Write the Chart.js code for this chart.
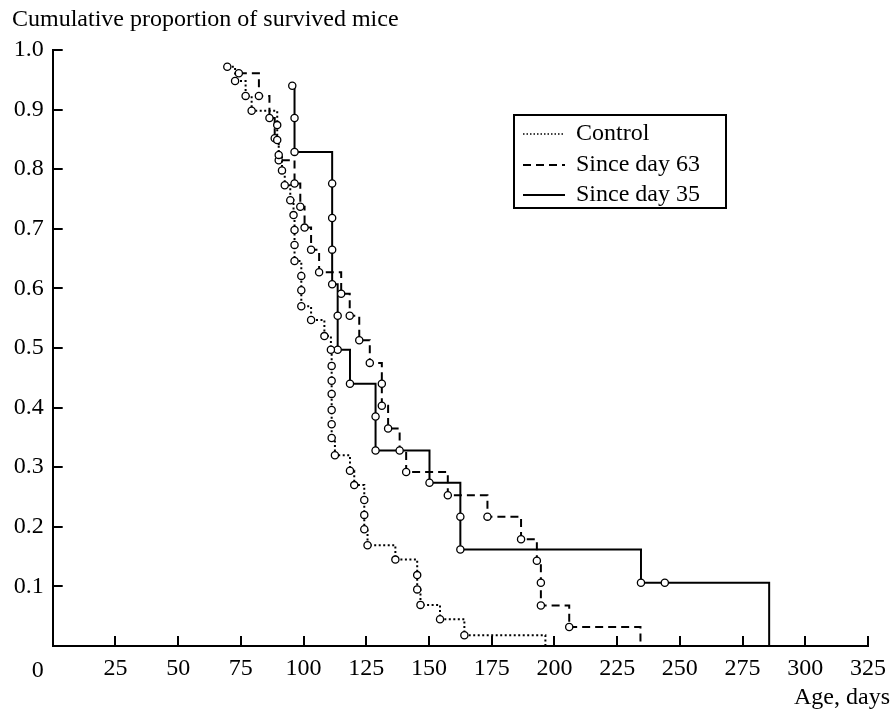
<!DOCTYPE html>
<html>
<head>
<meta charset="utf-8">
<script src="https://cdn.jsdelivr.net/npm/chart.js@4/dist/chart.umd.min.js"></script>
<style>
html,body{margin:0;padding:0;background:#fff;}
#wrap{width:894px;height:712px;position:relative;}
</style>
</head>
<body>
<div id="wrap"><canvas id="c" width="894" height="712"></canvas></div>
<script>
// ---- data ----
const seriesNames = ['Control', 'Since day 63', 'Since day 35'];

const controlDays = [69.6, 72.7, 76.9, 79.3, 89.5, 89.5, 90.1, 91.4, 92.5, 94.7, 96.0, 96.4, 96.4, 96.4, 99.1, 99.1, 99.1, 103.0, 108.3, 110.9, 111.2, 111.2, 111.2, 111.2, 111.2, 111.2, 112.5, 118.5, 120.2, 124.2, 124.2, 124.2, 125.5, 136.6, 145.3, 145.3, 146.6, 154.4, 164.1, 196.4];
const controlSurv = [0.972, 0.948, 0.923, 0.898, 0.874, 0.849, 0.824, 0.798, 0.773, 0.748, 0.723, 0.698, 0.673, 0.646, 0.621, 0.597, 0.570, 0.547, 0.520, 0.497, 0.470, 0.445, 0.423, 0.396, 0.372, 0.349, 0.320, 0.294, 0.270, 0.245, 0.220, 0.196, 0.169, 0.145, 0.119, 0.095, 0.069, 0.045, 0.018, 0];

const day63Days = [74.2, 82.2, 86.4, 88.5, 90.1, 96.4, 98.7, 100.4, 103.0, 106.2, 115.0, 118.4, 122.2, 126.4, 131.2, 131.2, 133.7, 138.3, 140.9, 157.5, 173.3, 186.7, 193.0, 194.6, 194.6, 205.9, 234.3];
const day63Surv = [0.961, 0.923, 0.886, 0.852, 0.815, 0.776, 0.737, 0.702, 0.665, 0.627, 0.591, 0.554, 0.513, 0.475, 0.440, 0.403, 0.365, 0.328, 0.292, 0.253, 0.217, 0.179, 0.143, 0.106, 0.068, 0.032, 0];

const day35Days = [95.5, 96.4, 96.4, 111.4, 111.4, 111.4, 111.4, 113.6, 113.6, 118.5, 128.7, 128.7, 150.2, 162.5, 162.5, 234.5, 244.0, 285.6];
const day35Surv = [0.940, 0.886, 0.829, 0.776, 0.718, 0.665, 0.607, 0.554, 0.497, 0.440, 0.385, 0.328, 0.274, 0.217, 0.162, 0.106, 0.106, 0];

const xTickValues = [0, 25, 50, 75, 100, 125, 150, 175, 200, 225, 250, 275, 300, 325];
const yTickLabels = ['0.1', '0.2', '0.3', '0.4', '0.5', '0.6', '0.7', '0.8', '0.9', '1.0'];
const yAxisTitle = 'Cumulative proportion of survived mice';
const xAxisTitle = 'Age, days';

// ---- helpers ----
const FONT = '"Liberation Serif", "Times New Roman", serif';
const FS = 24;
const toPts = (xs, ys) => xs.map((x, i) => ({ x: x, y: ys[i] }));

const pointR = ctx => (ctx.raw && ctx.raw.y === 0) ? 0 : 3.6;

function ds(label, xs, ys, dash) {
  return {
    label: label,
    data: toPts(xs, ys),
    borderColor: '#000',
    borderWidth: 2,
    borderDash: dash,
    stepped: 'before',
    fill: false,
    tension: 0,
    pointRadius: pointR,
    pointHoverRadius: pointR,
    pointBackgroundColor: '#fff',
    pointBorderColor: '#000',
    pointBorderWidth: 1.3
  };
}

const extras = {
  id: 'extras',
  afterDraw(chart) {
    const ctx = chart.ctx;
    const xs = chart.scales.x, ys = chart.scales.y;
    const a = chart.chartArea;
    ctx.save();
    // inward tick marks
    ctx.strokeStyle = '#000';
    ctx.lineWidth = 2;
    ctx.beginPath();
    ys.ticks.forEach(t => {
      if (t.value <= 0) return;
      const py = Math.round(ys.getPixelForValue(t.value));
      ctx.moveTo(a.left, py); ctx.lineTo(a.left + 10, py);
    });
    xs.ticks.forEach(t => {
      if (t.value <= 0) return;
      const px = Math.round(xs.getPixelForValue(t.value));
      ctx.moveTo(px, a.bottom); ctx.lineTo(px, a.bottom - 10);
    });
    ctx.stroke();

    ctx.fillStyle = '#000';
    ctx.font = FS + 'px ' + FONT;
    // shared origin label
    ctx.textAlign = 'center';
    ctx.textBaseline = 'alphabetic';
    ctx.fillText('0', xs.getPixelForValue(0) - 15, 677);
    // axis titles
    ctx.textAlign = 'left';
    ctx.fillText(yAxisTitle, 12, 26);
    ctx.textAlign = 'right';
    ctx.fillText(xAxisTitle, 890, 704);

    // legend
    const L = { x: 514, y: 115, w: 212, h: 93 };
    ctx.lineWidth = 2;
    ctx.setLineDash([]);
    ctx.strokeRect(L.x, L.y, L.w, L.h);
    const rows = [134, 165, 195];
    chart.data.datasets.forEach((d, i) => {
      ctx.beginPath();
      ctx.lineWidth = i === 0 ? 1.5 : 2;
      ctx.setLineDash(i === 0 ? [1.5, 2] : (d.borderDash || []));
      ctx.moveTo(523, rows[i]); ctx.lineTo(565, rows[i]);
      ctx.stroke();
      ctx.setLineDash([]);
      ctx.textAlign = 'left';
      ctx.textBaseline = 'middle';
      ctx.fillText(d.label, 576, rows[i]);
    });
    ctx.restore();
  }
};

new Chart(document.getElementById('c'), {
  type: 'line',
  data: {
    datasets: [
      ds(seriesNames[0], controlDays, controlSurv, [2, 2.5]),
      ds(seriesNames[1], day63Days, day63Surv, [8, 5]),
      ds(seriesNames[2], day35Days, day35Surv, [])
    ]
  },
  options: {
    responsive: false,
    animation: false,
    devicePixelRatio: 1,
    layout: { padding: { left: 0, top: 50, right: 21.3, bottom: 0 } },
    plugins: { legend: { display: false }, tooltip: { enabled: false }, title: { display: false } },
    scales: {
      x: {
        type: 'linear',
        min: 0, max: 325,
        afterBuildTicks: s => { s.ticks = xTickValues.map(v => ({ value: v })); },
        ticks: {
          callback: v => v === 0 ? '' : String(v),
          font: { family: FONT, size: FS },
          color: '#000',
          padding: 8,
          maxRotation: 0,
          autoSkip: false
        },
        grid: { display: false, drawTicks: false },
        border: { display: true, color: '#000', width: 2 },
        afterFit: s => { s.height = 66; }
      },
      y: {
        type: 'linear',
        min: 0, max: 1,
        afterBuildTicks: s => { s.ticks = [0].concat(yTickLabels.map(t => ({ value: parseFloat(t) })).map(o => o.value)).map(v => ({ value: v })); },
        ticks: {
          callback: v => v === 0 ? '' : yTickLabels[Math.round(v * 10) - 1],
          font: { family: FONT, size: FS },
          color: '#000',
          padding: 9,
          autoSkip: false
        },
        grid: { display: false, drawTicks: false },
        border: { display: true, color: '#000', width: 2 },
        afterFit: s => { s.width = 52.7; }
      }
    }
  },
  plugins: [extras]
});
</script>
</body>
</html>
